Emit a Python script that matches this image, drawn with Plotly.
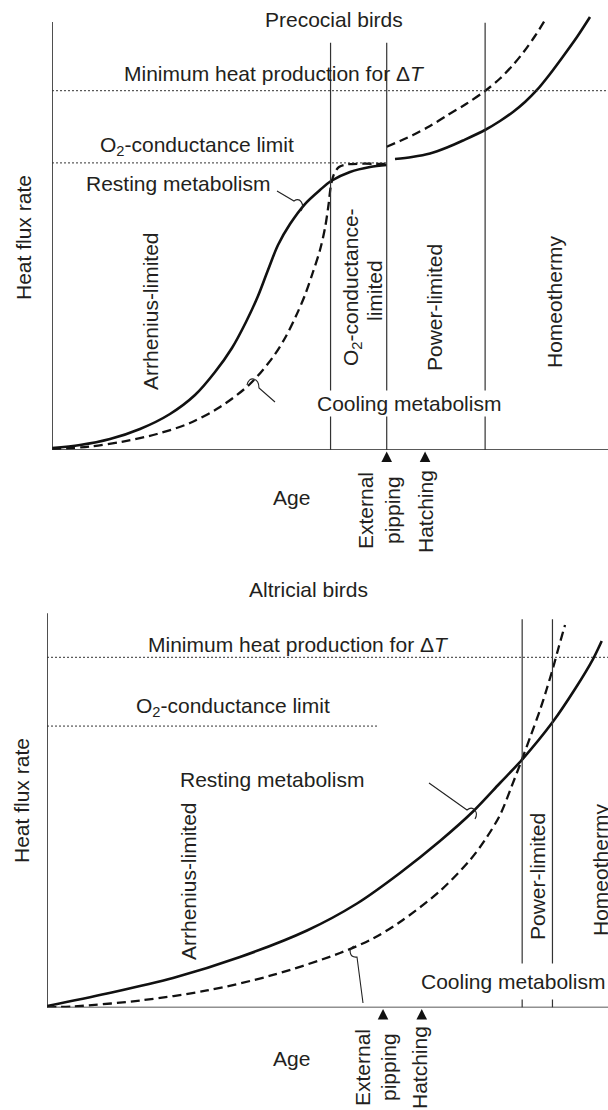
import plotly.graph_objects as go

W, H = 608, 1110

# ---------------- DATA (schematic units: age 0-100, heat flux 0-100) ----------------
# Precocial birds
pre_rest1_age = [0, 5.04, 10.43, 15.83, 21.22, 25.72, 29.32, 32.37, 34.89, 37.05, 38.85, 40.65,
                 42.81, 45.50, 48.20, 50.18, 53.60, 57.19, 60.20]
pre_rest1_flux = [0.46, 1.15, 2.53, 4.83, 8.28, 12.64, 17.93, 23.45, 29.43, 35.40, 41.38, 47.13,
                  51.95, 56.55, 59.77, 61.84, 63.91, 65.06, 65.52]
pre_rest2_age = [61.69, 64.75, 67.99, 71.04, 73.92, 77.88, 80.58, 82.91, 85.07, 87.23, 89.57,
                 91.91, 94.42, 96.76]
pre_rest2_flux = [66.90, 67.36, 68.16, 69.54, 71.15, 73.56, 75.63, 77.70, 80.00, 82.76, 86.44,
                  90.46, 94.94, 99.54]
pre_cool1_age = [0, 6.83, 12.77, 18.88, 24.82, 30.22, 35.61, 39.75, 41.91, 43.88, 45.50, 46.94,
                 48.20, 49.10, 49.73, 50.18, 50.72, 51.62, 52.88, 60.20]
pre_cool1_flux = [0.23, 0.80, 1.95, 3.68, 6.21, 9.89, 15.17, 21.38, 25.75, 30.80, 35.63, 40.92,
                  45.98, 51.03, 56.32, 60.92, 63.45, 65.06, 65.63, 65.75]
pre_cool2_age = [60.20, 62.59, 64.93, 67.99, 71.04, 74.46, 77.88, 80.58, 82.91, 84.89, 86.87, 88.97]
pre_cool2_flux = [69.72, 71.03, 72.41, 74.48, 76.90, 79.54, 82.53, 85.40, 88.51, 91.61, 95.17, 99.43]
pre_min_heat = 82.6
pre_o2_limit = 66.0
pre_o2_limit_end = 60.2
pre_boundaries = [50.1, 60.2, 77.9]
pre_boundary_tops = [93.6, 93.6, 98.2]
pre_events = [60.2, 67.1]          # external pipping, hatching
pre_axis_top = 98.4

# Altricial birds
alt_rest_age = [0, 10.70, 22.46, 34.40, 46.35, 55.26, 62.92, 70.05, 75.94, 80.75, 84.62, 90.14,
                94.12, 97.33, 98.88]
alt_rest_flux = [0.38, 3.52, 7.42, 12.70, 19.37, 26.16, 33.84, 41.89, 49.31, 56.48, 62.26, 71.82,
                 80.13, 87.67, 92.20]
alt_cool_age = [0, 4.63, 16.58, 28.52, 40.29, 52.23, 58.11, 62.92, 70.05, 75.40, 78.07, 80.75,
                82.71, 84.62, 86.27, 87.88, 89.13, 90.25, 91.27, 92.34]
alt_cool_flux = [0.05, 0.25, 1.76, 4.28, 8.18, 13.71, 17.36, 21.51, 29.31, 37.11, 42.14, 48.43,
                 55.22, 62.26, 68.55, 74.84, 80.38, 85.66, 90.94, 96.23]
alt_min_heat = 88.1
alt_o2_limit = 70.8
alt_o2_limit_end = 59.1
alt_boundaries = [84.7, 90.1]
alt_boundary_tops = [97.7, 97.7]
alt_events = [59.9, 66.8]
alt_axis_top = 99.2

# ---------------- LAYOUT HELPERS ----------------
TXT = "#231f20"
FONT = "Liberation Sans, Arial, Helvetica, sans-serif"
FS = 21


def P(px, py):
    return px / W, 1 - py / H


def path_px(cmds):
    out = []
    for c in cmds:
        if isinstance(c, str):
            out.append(c)
        else:
            x, y = P(*c)
            out.append(f"{x:.5f},{y:.5f}")
    return " ".join(out)


fig = go.Figure()

curve_color = "#111111"


def add_curve(x, y, xa, ya, dashed):
    fig.add_trace(go.Scatter(
        x=x, y=y, xaxis=xa, yaxis=ya, mode="lines",
        line=dict(color=curve_color, width=2.3 if dashed else 2.6,
                  dash="9px,5px" if dashed else "solid",
                  shape="spline", smoothing=0.9),
        showlegend=False, hoverinfo="skip"))


add_curve(pre_rest1_age, pre_rest1_flux, "x", "y", False)
add_curve(pre_rest2_age, pre_rest2_flux, "x", "y", False)
add_curve(pre_cool1_age, pre_cool1_flux, "x", "y", True)
add_curve(pre_cool2_age, pre_cool2_flux, "x", "y", True)
add_curve(alt_rest_age, alt_rest_flux, "x2", "y2", False)
add_curve(alt_cool_age, alt_cool_flux, "x2", "y2", True)

shapes = []


def hline(y, x1, x2, xr, yr):
    shapes.append(dict(type="line", xref=xr, yref=yr, x0=x1, x1=x2, y0=y, y1=y,
                       line=dict(color="#333333", width=1, dash="2px,2px")))


def vline(x, top, xr, yr, width=1.2, color="#333333"):
    shapes.append(dict(type="line", xref=xr, yref=yr, x0=x, x1=x, y0=0, y1=top,
                       line=dict(color=color, width=width)))


# axes lines
for xr, yr, top in [("x", "y", pre_axis_top), ("x2", "y2", alt_axis_top)]:
    shapes.append(dict(type="line", xref=xr, yref=yr, x0=0, x1=101, y0=0, y1=0,
                       line=dict(color="#222222", width=1.6)))
    vline(0, top, xr, yr, width=1.6, color="#222222")

hline(pre_min_heat, 0, 101, "x", "y")
hline(pre_o2_limit, 0, pre_o2_limit_end, "x", "y")
hline(alt_min_heat, 0, 101, "x2", "y2")
hline(alt_o2_limit, 0, alt_o2_limit_end, "x2", "y2")

for b, t in zip(pre_boundaries, pre_boundary_tops):
    vline(b, t, "x", "y")
for b, t in zip(alt_boundaries, alt_boundary_tops):
    vline(b, t, "x2", "y2")

# event triangles
for events, xr, xpx0, ybase_px in [(pre_events, "x", 52, 451.5), (alt_events, "x2", 47, 1009)]:
    hw = 5.3 / ((W - xpx0) / 100.0)
    yt = 1 - ybase_px / H
    yb = 1 - (ybase_px + 10.5) / H
    for e in events:
        shapes.append(dict(type="path", xref=xr, yref="paper",
                           path=f"M {e-hw},{yb} L {e+hw},{yb} L {e},{yt} Z",
                           fillcolor="#111111", line=dict(width=0)))

# leader lines with hooks (pixel geometry)
leaders = [
    ["M", (277, 191), "L", (294, 201), "C", (300, 197), (305, 204), (301, 211)],
    ["M", (275, 402), "L", (259, 388), "C", (259, 378), (249, 375), (247, 385)],
    ["M", (429, 783), "L", (467, 810), "C", (473, 805), (479, 812), (475, 819)],
    ["M", (363, 1003), "L", (357, 957), "C", (349, 958), (348, 948), (354, 946)],
]
for ld in leaders:
    shapes.append(dict(type="path", xref="paper", yref="paper", path=path_px(ld),
                       line=dict(color="#222222", width=1.1)))

# ---------------- TEXT ----------------
texts = [
    # (text, px, py, angle, bg, pad)
    ("Precocial birds", 334, 19, 0, None, 1),
    ("Minimum heat production for Δ<i>T</i>", 274, 74, 0, None, 1),
    ("O<sub>2</sub>-conductance limit", 197, 146, 0, None, 1),
    ("Resting metabolism", 178, 184, 0, None, 1),
    ("Heat flux rate", 23, 238, -90, None, 1),
    ("Arrhenius-limited", 150, 311, -90, None, 1),
    ("O<sub>2</sub>-conductance-", 352, 287, -90, None, 1),
    ("limited", 374, 291, -90, None, 1),
    ("Power-limited", 434, 308, -90, None, 1),
    ("Homeothermy", 554, 302, -90, None, 1),
    ("Cooling metabolism", 409, 403, 0, "white", 1),
    ("Age", 291, 497, 0, None, 1),
    ("External", 366, 511, -90, None, 1),
    ("pipping", 393, 510, -90, None, 1),
    ("Hatching", 426, 512, -90, None, 1),

    ("Altricial birds", 308, 589, 0, None, 1),
    ("Minimum heat production for Δ<i>T</i>", 298, 644, 0, None, 1),
    ("O<sub>2</sub>-conductance limit", 233, 707, 0, None, 1),
    ("Resting metabolism", 272, 779, 0, None, 1),
    ("Heat flux rate", 21, 801, -90, None, 1),
    ("Arrhenius-limited", 188, 881, -90, None, 1),
    ("Power-limited", 537, 877, -90, None, 1),
    ("Homeothermy", 600, 870, -90, None, 1),
    ("Cooling metabolism", 513, 981, 0, "white", 6),
    ("Age", 291, 1058, 0, None, 1),
    ("External", 362, 1068, -90, None, 1),
    ("pipping", 388, 1067, -90, None, 1),
    ("Hatching", 419, 1068, -90, None, 1),
]

annotations = []
for t, px, py, ang, bg, pad in texts:
    x, y = P(px, py)
    a = dict(text=t, x=x, y=y, xref="paper", yref="paper", showarrow=False,
             xanchor="center", yanchor="middle", textangle=ang,
             font=dict(family=FONT, size=FS, color=TXT), borderpad=pad)
    if bg:
        a["bgcolor"] = bg
    annotations.append(a)

ax_common = dict(visible=False, range=[0, 100], fixedrange=True)
fig.update_layout(
    width=W, height=H,
    margin=dict(l=0, r=0, t=0, b=0),
    paper_bgcolor="white", plot_bgcolor="rgba(0,0,0,0)",
    xaxis=dict(ax_common, domain=[52 / W, 1], anchor="y"),
    yaxis=dict(ax_common, domain=[1 - 450 / H, 1 - 15 / H], anchor="x"),
    xaxis2=dict(ax_common, domain=[47 / W, 1], anchor="y2"),
    yaxis2=dict(ax_common, domain=[1 - 1007.5 / H, 1 - 610 / H], anchor="x2"),
    shapes=shapes,
    annotations=annotations,
    showlegend=False,
)

fig.write_html("out.html", config={"displayModeBar": False},
               post_script="document.body.style.margin='0px';"
                           "document.body.style.overflow='hidden';")
